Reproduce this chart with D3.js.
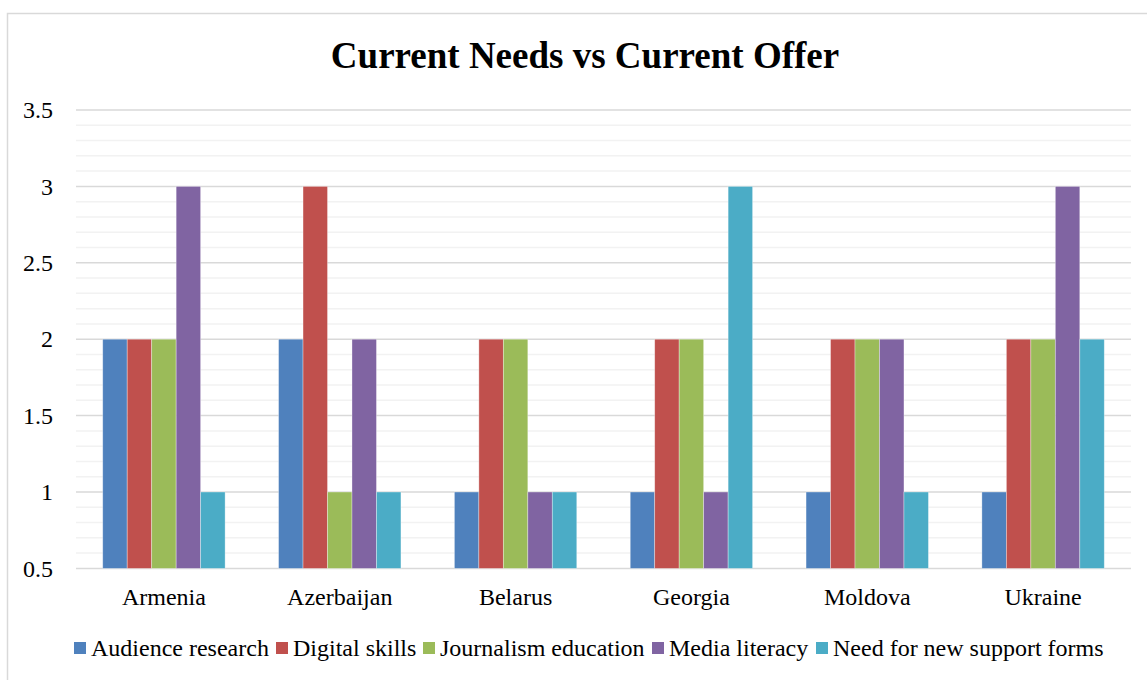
<!DOCTYPE html>
<html>
<head>
<meta charset="utf-8">
<script src="https://cdn.jsdelivr.net/npm/d3@7"></script>
<style>
  html, body { margin: 0; padding: 0; background: #fff; }
  svg { display: block; }
  text { font-family: "Liberation Serif", "Times New Roman", serif; fill: #000; }
</style>
</head>
<body>
<svg id="chart" width="1147" height="680"></svg>
<script>
const title = "Current Needs vs Current Offer";
const categories = ["Armenia", "Azerbaijan", "Belarus", "Georgia", "Moldova", "Ukraine"];
const seriesNames = ["Audience research", "Digital skills", "Journalism education", "Media literacy", "Need for new support forms"];
const seriesColors = ["#4f81bd", "#c0504d", "#9bbb59", "#8064a2", "#4bacc6"];
const audienceResearch = [2, 2, 1, 1, 1, 1];
const digitalSkills = [2, 3, 2, 2, 2, 2];
const journalismEducation = [2, 1, 2, 2, 2, 2];
const mediaLiteracy = [3, 2, 1, 1, 2, 3];
const needNewSupport = [1, 1, 1, 3, 1, 2];
const yTicks = [0.5, 1, 1.5, 2, 2.5, 3, 3.5];
const yTickLabels = ["0.5", "1", "1.5", "2", "2.5", "3", "3.5"];
const minorStep = 0.1;

const seriesValues = [audienceResearch, digitalSkills, journalismEducation, mediaLiteracy, needNewSupport];

const svg = d3.select("#chart");
const W = 1147, H = 680;
const plot = { left: 76, right: 1131, top: 110, bottom: 568.4 };
const fontSize = "24px";

// outer chart border (extends beyond the picture on right/bottom)
svg.append("rect")
  .attr("x", 7.5).attr("y", 13.5)
  .attr("width", W + 20).attr("height", H + 20)
  .attr("fill", "#fff").attr("stroke", "#d9d9d9").attr("stroke-width", 1.5);

const y = d3.scaleLinear().domain([0.5, 3.5]).range([plot.bottom, plot.top]);
const x0 = d3.scaleBand().domain(categories).range([plot.left, plot.right])
  .paddingInner(0.304).paddingOuter(0.152);
const x1 = d3.scaleBand().domain(seriesNames).range([0, x0.bandwidth()]).padding(0);

// minor gridlines
const minorVals = d3.range(0.5, 3.5001, minorStep).filter(v => Math.abs(v * 2 - Math.round(v * 2)) > 1e-6);
svg.append("g").selectAll("line").data(minorVals).join("line")
  .attr("x1", plot.left).attr("x2", plot.right)
  .attr("y1", d => y(d)).attr("y2", d => y(d))
  .attr("stroke", "#f2f2f2").attr("stroke-width", 1.5);

// major gridlines
svg.append("g").selectAll("line").data(yTicks).join("line")
  .attr("x1", plot.left).attr("x2", plot.right)
  .attr("y1", d => y(d)).attr("y2", d => y(d))
  .attr("stroke", "#d9d9d9").attr("stroke-width", 1.5);

// bars
const groups = svg.append("g").selectAll("g").data(categories).join("g")
  .attr("transform", c => `translate(${x0(c)},0)`);
groups.selectAll("rect")
  .data((c, ci) => seriesNames.map((s, si) => ({ s, si, v: seriesValues[si][ci] })))
  .join("rect")
  .attr("x", d => x1(d.s))
  .attr("width", x1.bandwidth())
  .attr("y", d => y(d.v))
  .attr("height", d => y(0.5) - y(d.v))
  .attr("fill", d => seriesColors[d.si])
  .attr("stroke", "#ffffff").attr("stroke-opacity", 0.45).attr("stroke-width", 0.75);

// y axis labels
const yAxis = d3.axisLeft(y).tickValues(yTicks).tickFormat((d, i) => yTickLabels[i]).tickSize(0).tickPadding(0);
const gy = svg.append("g").attr("transform", `translate(53,0)`).call(yAxis);
gy.select(".domain").remove();
gy.attr("font-family", null);
gy.selectAll("text").attr("font-size", fontSize).attr("font-family", '"Liberation Serif", serif').attr("fill", "#000");

// x axis labels
const xAxis = d3.axisBottom(x0).tickSize(0).tickPadding(0);
const gx = svg.append("g").attr("transform", `translate(0,${plot.bottom})`).call(xAxis);
gx.select(".domain").remove();
gx.attr("font-family", null);
gx.selectAll("text").attr("dy", null).attr("y", 37).attr("font-size", fontSize)
  .attr("font-family", '"Liberation Serif", serif').attr("fill", "#000");

// title
svg.append("text").attr("x", 585).attr("y", 68).attr("text-anchor", "middle")
  .attr("font-size", "37px").attr("font-weight", "bold").text(title);

// legend
const legendX = [74, 276, 423, 652, 816];
const lg = svg.append("g").selectAll("g").data(seriesNames).join("g")
  .attr("transform", (d, i) => `translate(${legendX[i]},0)`);
lg.append("rect").attr("x", 0).attr("y", 642).attr("width", 12).attr("height", 12)
  .attr("fill", (d, i) => seriesColors[i]);
lg.append("text").attr("x", 17).attr("y", 656).attr("font-size", fontSize).text(d => d);
</script>
</body>
</html>
